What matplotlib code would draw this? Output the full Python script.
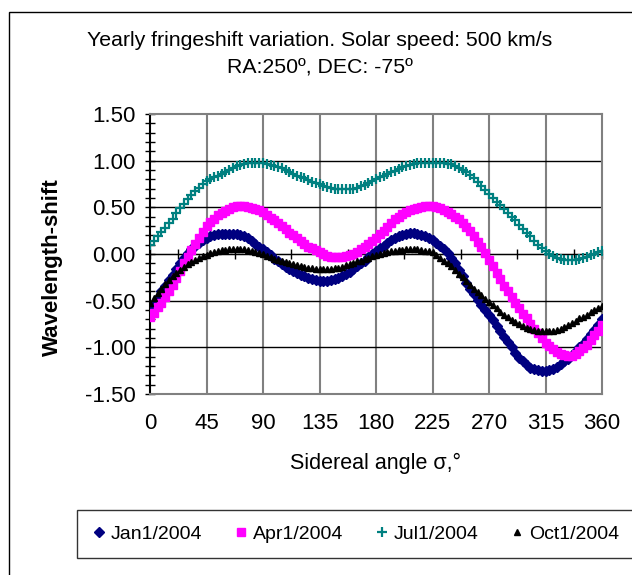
import numpy as np
import matplotlib
matplotlib.use("Agg")
import matplotlib.pyplot as plt
from matplotlib.patches import Rectangle
from matplotlib.lines import Line2D

plt.rcParams['font.family'] = ['Liberation Sans', 'DejaVu Sans']

# sidereal angle, every 3 degrees
angle = list(range(0, 361, 3))

jan = [-0.61, -0.54, -0.47, -0.40, -0.34, -0.28, -0.22, -0.16, -0.10, -0.04,
       0.01, 0.05, 0.09, 0.12, 0.15, 0.17, 0.19, 0.20, 0.21, 0.21,
       0.21, 0.21, 0.21, 0.21, 0.20, 0.19, 0.17, 0.14, 0.11, 0.08,
       0.05, 0.02, -0.01, -0.05, -0.08, -0.11, -0.14, -0.16, -0.18, -0.20,
       -0.22, -0.24, -0.26, -0.27, -0.28, -0.29, -0.29, -0.29, -0.28, -0.27,
       -0.26, -0.24, -0.21, -0.19, -0.16, -0.13, -0.10, -0.07, -0.03, 0.00,
       0.03, 0.06, 0.09, 0.12, 0.15, 0.17, 0.19, 0.20, 0.21, 0.22,
       0.22, 0.21, 0.20, 0.19, 0.17, 0.15, 0.12, 0.09, 0.05, 0.01,
       -0.04, -0.10, -0.17, -0.24, -0.31, -0.37, -0.43, -0.49, -0.55, -0.60,
       -0.65, -0.71, -0.77, -0.83, -0.89, -0.94, -1.00, -1.06, -1.11, -1.15,
       -1.19, -1.22, -1.23, -1.24, -1.25, -1.25, -1.24, -1.23, -1.21, -1.18,
       -1.15, -1.12, -1.08, -1.04, -1.00, -0.96, -0.91, -0.86, -0.81, -0.76,
       -0.70]

apr = [-0.68, -0.63, -0.57, -0.52, -0.46, -0.40, -0.33, -0.26, -0.18, -0.10,
       -0.03, 0.04, 0.11, 0.17, 0.24, 0.30, 0.34, 0.38, 0.42, 0.44,
       0.46, 0.48, 0.50, 0.51, 0.51, 0.51, 0.50, 0.49, 0.48, 0.47,
       0.45, 0.42, 0.39, 0.36, 0.33, 0.30, 0.27, 0.23, 0.20, 0.17,
       0.14, 0.11, 0.08, 0.06, 0.04, 0.02, 0.00, -0.02, -0.03, -0.03,
       -0.03, -0.03, -0.02, -0.01, 0.00, 0.02, 0.05, 0.08, 0.11, 0.14,
       0.17, 0.21, 0.25, 0.29, 0.33, 0.37, 0.40, 0.43, 0.45, 0.47,
       0.48, 0.49, 0.50, 0.51, 0.51, 0.51, 0.50, 0.49, 0.47, 0.45,
       0.43, 0.40, 0.37, 0.33, 0.29, 0.25, 0.19, 0.13, 0.07, 0.01,
       -0.06, -0.13, -0.20, -0.27, -0.34, -0.40, -0.46, -0.52, -0.58, -0.64,
       -0.69, -0.75, -0.80, -0.85, -0.90, -0.95, -0.99, -1.02, -1.05, -1.07,
       -1.08, -1.09, -1.09, -1.07, -1.04, -1.01, -0.97, -0.92, -0.87, -0.82,
       -0.76]

jul = [0.10, 0.14, 0.19, 0.24, 0.28, 0.33, 0.38, 0.44, 0.49, 0.54,
       0.59, 0.63, 0.67, 0.71, 0.75, 0.78, 0.80, 0.82, 0.84, 0.86,
       0.88, 0.90, 0.92, 0.94, 0.95, 0.96, 0.97, 0.97, 0.97, 0.97,
       0.97, 0.96, 0.95, 0.94, 0.93, 0.92, 0.90, 0.88, 0.86, 0.84,
       0.83, 0.81, 0.79, 0.77, 0.76, 0.75, 0.73, 0.72, 0.71, 0.70,
       0.70, 0.70, 0.70, 0.70, 0.70, 0.71, 0.73, 0.74, 0.76, 0.78,
       0.80, 0.82, 0.84, 0.86, 0.88, 0.89, 0.91, 0.93, 0.94, 0.95,
       0.96, 0.97, 0.97, 0.98, 0.98, 0.98, 0.98, 0.97, 0.97, 0.96,
       0.96, 0.94, 0.92, 0.90, 0.88, 0.85, 0.81, 0.77, 0.73, 0.69,
       0.64, 0.60, 0.56, 0.52, 0.48, 0.44, 0.40, 0.36, 0.31, 0.27,
       0.23, 0.19, 0.14, 0.10, 0.06, 0.03, 0.00, -0.02, -0.04, -0.05,
       -0.06, -0.06, -0.06, -0.06, -0.05, -0.04, -0.03, -0.01, 0.00, 0.02,
       0.03]

oct_ = [-0.53, -0.47, -0.42, -0.37, -0.32, -0.28, -0.24, -0.20, -0.17, -0.14,
        -0.11, -0.09, -0.06, -0.04, -0.02, -0.01, 0.01, 0.02, 0.03, 0.04,
        0.04, 0.05, 0.05, 0.05, 0.05, 0.05, 0.04, 0.03, 0.02, 0.01,
        0.00, -0.02, -0.03, -0.05, -0.06, -0.08, -0.09, -0.10, -0.11, -0.12,
        -0.13, -0.14, -0.15, -0.15, -0.16, -0.16, -0.16, -0.16, -0.16, -0.15,
        -0.15, -0.14, -0.12, -0.11, -0.10, -0.08, -0.07, -0.05, -0.04, -0.02,
        -0.01, 0.00, 0.01, 0.02, 0.03, 0.03, 0.04, 0.04, 0.05, 0.05,
        0.05, 0.05, 0.04, 0.03, 0.03, 0.02, -0.01, -0.04, -0.07, -0.10,
        -0.13, -0.17, -0.21, -0.25, -0.29, -0.33, -0.37, -0.41, -0.44, -0.48,
        -0.51, -0.55, -0.58, -0.62, -0.65, -0.68, -0.71, -0.73, -0.75, -0.77,
        -0.79, -0.80, -0.81, -0.82, -0.83, -0.83, -0.83, -0.82, -0.81, -0.80,
        -0.78, -0.76, -0.74, -0.72, -0.69, -0.67, -0.65, -0.62, -0.60, -0.58,
        -0.56]

labels = ["Jan1/2004", "Apr1/2004", "Jul1/2004", "Oct1/2004"]
x_ticks = [0, 45, 90, 135, 180, 225, 270, 315, 360]
y_ticks = [-1.5, -1.0, -0.5, 0.0, 0.5, 1.0, 1.5]

W, H = 632, 575
fig = plt.figure(figsize=(W / 100, H / 100), dpi=100)

# chart area border (only left and top show inside the picture)
fig.patches.append(Rectangle((9 / W, -0.05), 1.1, 1 - 12 / H + 0.05,
                             transform=fig.transFigure, fill=False,
                             edgecolor='black', linewidth=1.0))

ax = fig.add_axes([150 / W, 1 - 394 / H, 452 / W, 280 / H])
ax.set_xlim(0, 360)
ax.set_ylim(-1.5, 1.5)

for x in x_ticks[1:-1]:
    ax.axvline(x, color='#808080', linewidth=1.5, zorder=1)
for y in y_ticks[1:-1]:
    ax.axhline(y, color='black', linewidth=1.0, zorder=1)

ax.plot(angle, jan, linestyle='none', marker='D', markersize=4.8,
        color='#000080', zorder=3)
ax.plot(angle, apr, linestyle='none', marker='s', markersize=5.4,
        color='#FF00FF', zorder=3)
ax.plot(angle, jul, linestyle='none', marker='+', markersize=7.5,
        markeredgewidth=1.6, color='#008080', zorder=3)
ax.plot(angle, oct_, linestyle='none', marker='^', markersize=4.2,
        color='black', zorder=3)

for side in ['top', 'right', 'bottom']:
    ax.spines[side].set_color('#808080')
    ax.spines[side].set_linewidth(1.5)
ax.spines['left'].set_linewidth(1.5)

ax.set_yticks(y_ticks)
ax.set_yticklabels([f"{v:.2f}" for v in y_ticks], fontsize=16)
ax.set_yticks(np.arange(-1.5, 1.51, 0.1), minor=True)
ax.tick_params(axis='y', which='both', direction='inout', length=7,
               width=1.0, pad=7)

ax.set_xticks(x_ticks)
ax.set_xticklabels([str(v) for v in x_ticks], fontsize=16)
ax.tick_params(axis='x', which='both', length=0, pad=14)

# horizontal axis crossing at zero
sec = ax.secondary_xaxis(0.5)
sec.set_xticks(np.arange(0, 361, 22.5))
sec.tick_params(axis='x', direction='inout', length=7, width=1.0,
                labelbottom=False, labeltop=False, bottom=True, top=False)
sec.spines['bottom'].set_color('black')
sec.spines['bottom'].set_linewidth(1.0)

fig.text(52 / W, 1 - 267 / H, "Wavelength-shift", rotation=90,
         ha='center', va='center', fontsize=16, fontweight='bold')
ax.set_xlabel("Sidereal angle σ,°", fontsize=15.5, labelpad=13)

fig.text(320 / W, 1 - 40 / H, "Yearly fringeshift variation. Solar speed: 500 km/s",
         ha='center', va='center', fontsize=15.3)
fig.text(320 / W, 1 - 68 / H, "RA:250º, DEC: -75º",
         ha='center', va='center', fontsize=15.3)

handles = [
    Line2D([], [], linestyle='none', marker='D', markersize=4.8, color='#000080'),
    Line2D([], [], linestyle='none', marker='s', markersize=5.4, color='#FF00FF'),
    Line2D([], [], linestyle='none', marker='+', markersize=7.5,
           markeredgewidth=1.6, color='#008080'),
    Line2D([], [], linestyle='none', marker='^', markersize=4.2, color='black'),
]
leg = fig.legend(handles, labels, ncol=4, loc='center',
                 bbox_to_anchor=(356 / W, 1 - 534 / H), fontsize=14,
                 frameon=True, fancybox=False, edgecolor='black',
                 handlelength=0.6, handletextpad=0.3, columnspacing=1.7,
                 borderpad=0.8)
leg.get_frame().set_linewidth(1.0)

fig.savefig("out.png", dpi=100)
